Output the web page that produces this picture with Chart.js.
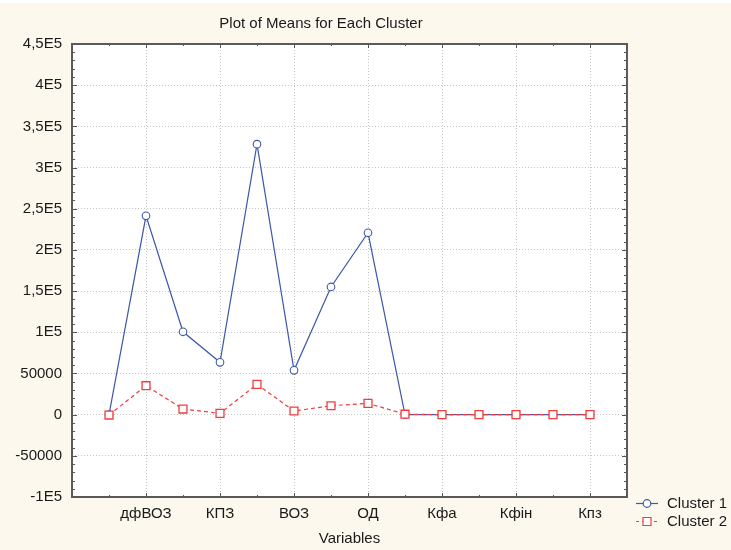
<!DOCTYPE html>
<html><head><meta charset="utf-8">
<script src="https://cdn.jsdelivr.net/npm/chart.js@4.4.1/dist/chart.umd.min.js"></script>
<style>
html,body{margin:0;padding:0;background:#fcf8ee;}
#wrap{position:relative;width:731px;height:550px;}
canvas{display:block}
</style>
</head><body>
<div id="wrap"><canvas id="c" width="731" height="550"></canvas></div>
<script>
const chartTitle = 'Plot of Means for Each Cluster';
const xAxisTitle = 'Variables';
const categories = ['', 'дфВОЗ', '', 'КПЗ', '', 'ВОЗ', '', 'ОД', '', 'Кфа', '', 'Кфін', '', 'Кпз'];
const seriesNames = ['Cluster 1', 'Cluster 2'];
const cluster1 = [0, 241400, 100600, 63500, 328400, 53800, 155000, 220800, 0, 0, 0, 0, 0, 0];
const cluster2 = [-500, 35100, 6800, 1600, 36800, 4400, 10800, 13700, 500, 0, 0, 0, 0, 0];
const yTickValues = [-100000, -50000, 0, 50000, 100000, 150000, 200000, 250000, 300000, 350000, 400000, 450000];
const yTickLabels = ['-1E5', '-50000', '0', '50000', '1E5', '1,5E5', '2E5', '2,5E5', '3E5', '3,5E5', '4E5', '4,5E5'];

const FONT = '"Liberation Sans", Arial, sans-serif';
const FS = 15;
const TXT = '#1a1a1a';
const BLUE = '#3d58aa';
const RED = '#f23c3c';
const GRID = '#c6c6c6';
const AXIS = '#555';

const bgPlugin = {
  id: 'bg',
  beforeDraw(chart) {
    const ctx = chart.ctx, a = chart.chartArea;
    ctx.save();
    ctx.fillStyle = '#fcf8ee';
    ctx.fillRect(0, 0, chart.width, chart.height);
    ctx.fillStyle = '#ffffff';
    ctx.fillRect(0, 0, chart.width, 3);
    ctx.fillRect(a.left, a.top, a.right - a.left, a.bottom - a.top);
    ctx.restore();
  }
};

const framePlugin = {
  id: 'frame',
  afterDraw(chart) {
    const ctx = chart.ctx, a = chart.chartArea;
    const xs = chart.scales.x, ys = chart.scales.y;
    ctx.save();
    ctx.strokeStyle = AXIS;
    ctx.lineWidth = 1;
    ctx.beginPath();
    for (let i = 0; i < categories.length; i++) {
      const px = Math.round(xs.getPixelForValue(i)) + 0.5;
      const len = (i % 2 === 1) ? 4 : 2;
      ctx.moveTo(px, a.bottom); ctx.lineTo(px, a.bottom - len);
      ctx.moveTo(px, a.top); ctx.lineTo(px, a.top + len);
    }
    for (let v = ys.min; v <= ys.max; v += 10000) {
      const py = Math.round(ys.getPixelForValue(v)) + 0.5;
      const len = (v % 50000 === 0) ? 5 : 3;
      ctx.moveTo(a.left, py); ctx.lineTo(a.left + len, py);
      ctx.moveTo(a.right, py); ctx.lineTo(a.right - len, py);
    }
    ctx.stroke();
    ctx.lineWidth = 2;
    ctx.strokeStyle = '#5a5a5a';
    ctx.strokeRect(a.left, a.top, a.right - a.left, a.bottom - a.top);

    // title
    ctx.fillStyle = TXT;
    ctx.font = FS + 'px ' + FONT;
    ctx.textAlign = 'center';
    ctx.textBaseline = 'middle';
    ctx.fillText(chartTitle, 321, 24);

    // legend
    const items = [
      {name: seriesNames[0], color: BLUE, dash: [], style: 'circle', y: 503},
      {name: seriesNames[1], color: RED, dash: [3, 3], style: 'rect', y: 521}
    ];
    items.forEach(it => {
      ctx.strokeStyle = it.color;
      ctx.lineWidth = 1.2;
      ctx.setLineDash(it.dash);
      ctx.beginPath();
      ctx.moveTo(636, it.y + 0.5); ctx.lineTo(658, it.y + 0.5);
      ctx.stroke();
      ctx.setLineDash([]);
      ctx.fillStyle = '#fff';
      ctx.beginPath();
      if (it.style === 'circle') {
        ctx.arc(647, it.y + 0.5, 3.8, 0, Math.PI * 2);
      } else {
        ctx.rect(643, it.y - 3.5, 8, 8);
      }
      ctx.fill(); ctx.stroke();
      ctx.fillStyle = TXT;
      ctx.textAlign = 'left';
      ctx.fillText(it.name, 667, it.y + 1);
    });
    ctx.restore();
  }
};

new Chart(document.getElementById('c'), {
  type: 'line',
  data: {
    datasets: [
      {
        label: seriesNames[0],
        data: cluster1.map((v, i) => ({x: i, y: v})),
        borderColor: BLUE, borderWidth: 1.2, tension: 0,
        pointStyle: 'circle', pointRadius: 3.8,
        pointBackgroundColor: '#fff', pointBorderColor: BLUE, pointBorderWidth: 1.1,
        order: 1
      },
      {
        label: seriesNames[1],
        data: cluster2.map((v, i) => ({x: i, y: v})),
        borderColor: RED, borderWidth: 1.2, borderDash: [4, 3], tension: 0,
        pointStyle: 'rect', pointRadius: 5.6,
        pointBackgroundColor: '#fff', pointBorderColor: RED, pointBorderWidth: 1.3,
        order: 0
      }
    ]
  },
  options: {
    responsive: false,
    animation: false,
    events: [],
    layout: {padding: {left: 0, top: 44, right: 104, bottom: 0}},
    plugins: {legend: {display: false}, title: {display: false}, tooltip: {enabled: false}},
    scales: {
      x: {
        type: 'linear', min: -1, max: 14,
        afterBuildTicks(scale) { scale.ticks = categories.map((c, i) => ({value: i})); },
        afterFit(scale) { scale.height = 53; },
        ticks: {
          autoSkip: false, maxRotation: 0, padding: 8,
          color: TXT, font: {family: FONT, size: FS},
          callback: (v) => categories[v] || ''
        },
        grid: {
          drawTicks: false, lineWidth: 1,
          color: (ctx) => (ctx.tick && categories[ctx.tick.value]) ? GRID : 'rgba(0,0,0,0)'
        },
        border: {display: false, dash: [1, 2]},
        title: {display: true, text: xAxisTitle, color: TXT, font: {family: FONT, size: FS}, padding: {top: 0, bottom: 2}}
      },
      y: {
        type: 'linear', min: -100000, max: 450000,
        afterBuildTicks(scale) { scale.ticks = yTickValues.map(v => ({value: v})); },
        afterFit(scale) { scale.width = 72; },
        ticks: {
          autoSkip: false, padding: 10,
          color: TXT, font: {family: FONT, size: FS},
          callback: (v) => yTickLabels[yTickValues.indexOf(v)]
        },
        grid: {
          drawTicks: false, lineWidth: 1,
          color: (ctx) => (ctx.tick && ctx.tick.value > -100000 && ctx.tick.value < 450000) ? GRID : 'rgba(0,0,0,0)'
        },
        border: {display: false, dash: [1, 2]}
      }
    }
  },
  plugins: [bgPlugin, framePlugin]
});
</script>
</body></html>
